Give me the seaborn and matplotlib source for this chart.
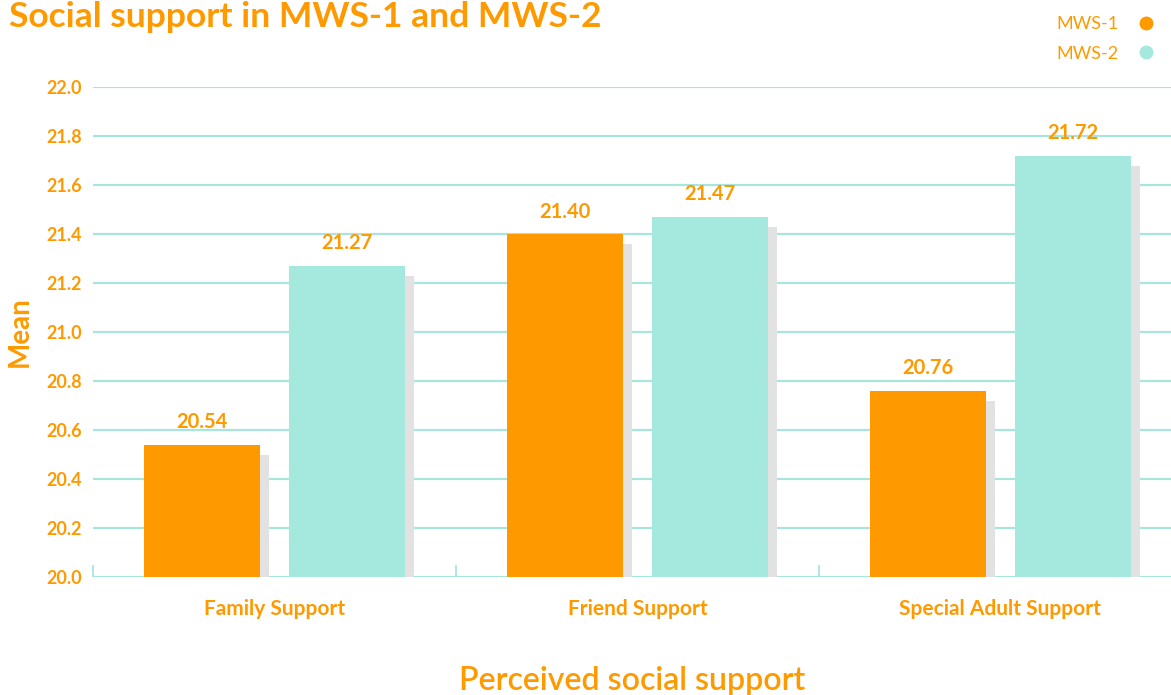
import numpy as np
import pandas as pd
import matplotlib.pyplot as plt
import matplotlib.patches as mpatches
import matplotlib.transforms as mtransforms
from matplotlib.lines import Line2D
import seaborn as sns

categories = ['Family Support', 'Friend Support', 'Special Adult Support']
mws1 = [20.54, 21.40, 20.76]
mws2 = [21.27, 21.47, 21.72]
series = ['MWS-1', 'MWS-2']

orange = '#fe9a00'
teal = '#a5e8de'
grid_col = '#a8e6dc'

df = pd.DataFrame({
    'support': categories * 2,
    'mean': mws1 + mws2,
    'wave': [series[0]] * 3 + [series[1]] * 3,
})

sns.set_theme(style='white')
plt.rcParams['font.family'] = ['Lato', 'DejaVu Sans']

fig = plt.figure(figsize=(11.71, 6.95), dpi=100)
ax = fig.add_axes([0.0794, 0.1698, 0.9206, 0.705])

sns.barplot(data=df, x='support', y='mean', hue='wave', order=categories,
            hue_order=series, palette=[orange, teal], width=0.8, gap=0.2,
            errorbar=None, legend=False, ax=ax, zorder=3, saturation=1,
            linewidth=0)

ax.set_ylim(20.0, 22.0)
ax.set_xlim(-0.5, 2.47)

# grey drop shadow behind each bar (offset right and down)
offset = mtransforms.ScaledTranslation(9 / 100, -10 / 100, fig.dpi_scale_trans)
for p in list(ax.patches):
    sh = mpatches.Rectangle((p.get_x(), p.get_y()), p.get_width(),
                            p.get_height(), facecolor='#e2e2e2',
                            edgecolor='none', zorder=2,
                            transform=ax.transData + offset)
    ax.add_patch(sh)

for cont in ax.containers:
    ax.bar_label(cont, fmt='%.2f', padding=9, color=orange,
                 fontsize=14.5, fontweight='bold')

ax.set_yticks(np.arange(20.0, 22.01, 0.2))
ax.set_yticklabels(['%.1f' % v for v in np.arange(20.0, 22.01, 0.2)])
ax.yaxis.grid(True, color=grid_col, linewidth=1.6, zorder=0)
ax.set_axisbelow(True)
for s in ax.spines.values():
    s.set_visible(False)

ax.tick_params(axis='y', length=0, pad=8, labelcolor=orange, labelsize=13)
ax.tick_params(axis='x', which='major', length=0, pad=16, labelcolor=orange,
               labelsize=15)
ax.set_xticks([-0.5, 0.5, 1.5], minor=True)
ax.tick_params(axis='x', which='minor', bottom=True, length=9, width=1.3,
               direction='in', color=grid_col)
for lab in ax.get_xticklabels() + ax.get_yticklabels():
    lab.set_fontweight('bold')

ax.set_xlabel('Perceived social support', color=orange, fontsize=23,
              labelpad=34, fontweight='semibold')
ax.set_ylabel('Mean', color=orange, fontsize=20, fontweight='bold',
              labelpad=10)

handles = [Line2D([], [], marker='o', linestyle='none', markersize=9,
                  color=c) for c in [orange, teal]]
leg = fig.legend(handles, series, loc='upper right',
                 bbox_to_anchor=(1.008, 1.0), markerfirst=False,
                 frameon=False, fontsize=13, handletextpad=0.5,
                 labelspacing=0.75)
for t in leg.get_texts():
    t.set_color(orange)

fig.text(0.008, 0.999, 'Social support in MWS-1 and MWS-2', color=orange,
         fontsize=25.5, fontweight='bold', ha='left', va='top')

fig.savefig('out.png', dpi=100)
